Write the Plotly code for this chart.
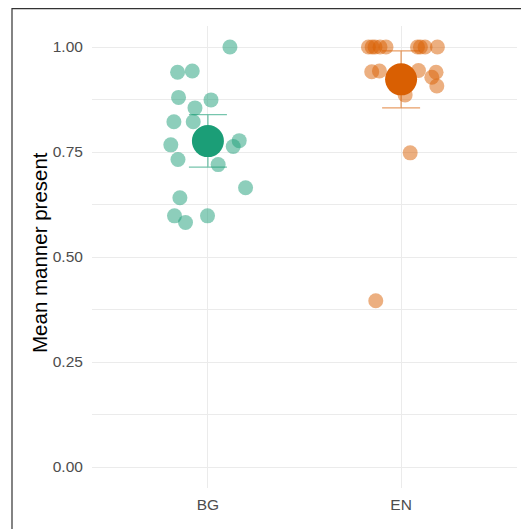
import plotly.graph_objects as go

categories = ["BG", "EN"]
colors = ["#1B9E77", "#D95F02"]

# individual participant means (value) and horizontal jitter offsets
bg_values = [1.00, 0.940, 0.943, 0.880, 0.874, 0.855, 0.822, 0.822, 0.767,
             0.777, 0.763, 0.732, 0.720, 0.665, 0.641, 0.598, 0.598, 0.582]
bg_jitter = [0.114, -0.157, -0.081, -0.152, 0.016, -0.067, -0.176, -0.076, -0.192,
             0.162, 0.131, -0.155, 0.053, 0.195, -0.145, -0.173, -0.002, -0.116]

en_values = [1.00, 1.00, 1.00, 1.00, 1.00, 1.00, 1.00, 1.00, 1.00,
             0.941, 0.943, 0.944, 0.940, 0.928, 0.907, 0.886, 0.748, 0.396]
en_jitter = [-0.169, -0.135, -0.109, -0.078, 0.085, 0.124, 0.188, -0.150, 0.100,
             -0.152, -0.112, 0.090, 0.181, 0.159, 0.185, 0.021, 0.047, -0.131]

group_means = [0.776, 0.923]
ci_low = [0.714, 0.855]
ci_high = [0.839, 0.991]

yticks = [0.00, 0.25, 0.50, 0.75, 1.00]
ytick_labels = ["0.00", "0.25", "0.50", "0.75", "1.00"]

def rgba(hexc, a):
    h = hexc.lstrip("#")
    r, g, b = int(h[0:2], 16), int(h[2:4], 16), int(h[4:6], 16)
    return f"rgba({r},{g},{b},{a})"

fig = go.Figure()

groups = [(bg_values, bg_jitter), (en_values, en_jitter)]
for i, (vals, jit) in enumerate(groups):
    pos = i + 1
    fig.add_trace(go.Scatter(
        x=[pos + j for j in jit], y=vals, mode="markers",
        marker=dict(size=15, color=colors[i], opacity=0.5, line=dict(width=0)),
        showlegend=False, hoverinfo="y"))

for i in range(2):
    pos = i + 1
    fig.add_trace(go.Scatter(
        x=[pos], y=[group_means[i]], mode="markers",
        marker=dict(size=1, color="rgba(0,0,0,0)"),
        error_y=dict(type="data", symmetric=False,
                     array=[ci_high[i] - group_means[i]],
                     arrayminus=[group_means[i] - ci_low[i]],
                     color=rgba(colors[i], 0.6), thickness=1.3, width=19),
        showlegend=False, hoverinfo="skip"))
    fig.add_trace(go.Scatter(
        x=[pos], y=[group_means[i]], mode="markers",
        marker=dict(size=32, color=colors[i], line=dict(width=0)),
        showlegend=False, hoverinfo="y"))

# page body has an 8px margin; figure origin sits at (8, 8)
OFF = 8
W = H = 529 - OFF
L, R, T, B = 92 - OFF, 12, 26 - OFF, 41
pw = W - L - R
ph = H - T - B

fig.update_layout(
    width=W, height=H,
    margin=dict(l=L, r=R, t=T, b=B),
    paper_bgcolor="white", plot_bgcolor="white",
    font=dict(family="Liberation Sans, Arial, sans-serif", color="#4D4D4D", size=15.5),
    xaxis=dict(range=[0.4, 2.6], tickvals=[1, 2], ticktext=categories,
               showgrid=True, gridcolor="#EBEBEB", gridwidth=1.2, zeroline=False,
               showline=False, ticks="outside", ticklen=2, tickcolor="rgba(0,0,0,0)",
               tickfont=dict(size=15.5, color="#4D4D4D")),
    yaxis=dict(range=[-0.05, 1.05], tickvals=yticks, ticktext=ytick_labels,
               showgrid=True, gridcolor="#EBEBEB", gridwidth=1.2, zeroline=False,
               showline=False, ticks="outside", ticklen=5, tickcolor="rgba(0,0,0,0)",
               tickfont=dict(size=15.5, color="#4D4D4D"),
               minor=dict(tickvals=[0.125, 0.375, 0.625, 0.875], showgrid=True,
                          gridcolor="#EBEBEB", gridwidth=0.6)),
    shapes=[dict(type="rect", xref="paper", yref="paper",
                 x0=(12 - OFF - L) / pw, x1=1.3, y0=-0.4, y1=(ph + T - 0.6) / ph,
                 line=dict(color="#333333", width=1.2), fillcolor="rgba(0,0,0,0)",
                 layer="above")],
    annotations=[dict(text="Mean manner present", xref="paper", yref="paper",
                      x=(40 - 92) / pw, y=0.5 + 4 / ph, xanchor="center", yanchor="middle",
                      textangle=-90, showarrow=False,
                      font=dict(size=20.5, color="black"))],
)

fig.write_html("out.html")
